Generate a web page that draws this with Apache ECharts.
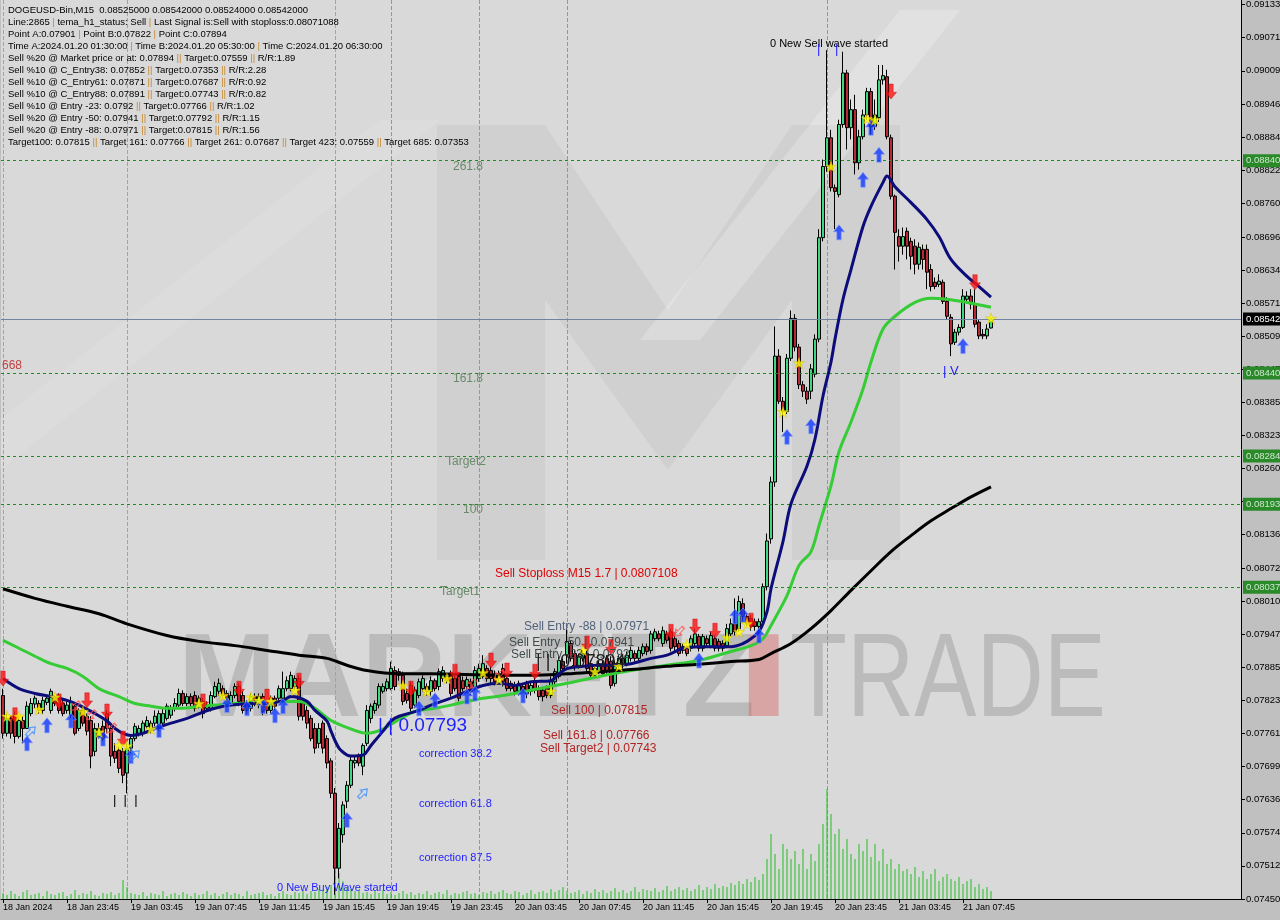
<!DOCTYPE html>
<html><head><meta charset="utf-8">
<script src="https://cdn.jsdelivr.net/npm/echarts@6/dist/echarts.min.js"></script>
<style>html,body{margin:0;padding:0;background:#c0c0c0}#c{width:1280px;height:920px}</style>
</head><body><div id="c"></div>
<script>
const infoLines = [
 'DOGEUSD-Bin,M15  0.08525000 0.08542000 0.08524000 0.08542000',
 'Line:2865 | tema_h1_status: Sell | Last Signal is:Sell with stoploss:0.08071088',
 'Point A:0.07901 | Point B:0.07822 | Point C:0.07894',
 'Time A:2024.01.20 01:30:00 | Time B:2024.01.20 05:30:00 | Time C:2024.01.20 06:30:00',
 'Sell %20 @ Market price or at: 0.07894 || Target:0.07559 || R/R:1.89',
 'Sell %10 @ C_Entry38: 0.07852 || Target:0.07353 || R/R:2.28',
 'Sell %10 @ C_Entry61: 0.07871 || Target:0.07687 || R/R:0.92',
 'Sell %10 @ C_Entry88: 0.07891 || Target:0.07743 || R/R:0.82',
 'Sell %10 @ Entry -23: 0.0792 || Target:0.07766 || R/R:1.02',
 'Sell %20 @ Entry -50: 0.07941 || Target:0.07792 || R/R:1.15',
 'Sell %20 @ Entry -88: 0.07971 || Target:0.07815 || R/R:1.56',
 'Target100: 0.07815 || Target 161: 0.07766 || Target 261: 0.07687 || Target 423: 0.07559 || Target 685: 0.07353'
];
const yTickLabels = ['0.074502','0.075124','0.075746','0.076369','0.076991','0.077613','0.078235','0.078857','0.079479','0.080101','0.080723','0.081364','0.081986','0.082608','0.083230','0.083852','0.084474','0.085096','0.085718','0.086340','0.086962','0.087601','0.088221','0.088843','0.089465','0.090091','0.090714','0.091336'];
const xTickLabels = ['18 Jan 2024','18 Jan 23:45','19 Jan 03:45','19 Jan 07:45','19 Jan 11:45','19 Jan 15:45','19 Jan 19:45','19 Jan 23:45','20 Jan 03:45','20 Jan 07:45','20 Jan 11:45','20 Jan 15:45','20 Jan 19:45','20 Jan 23:45','21 Jan 03:45','21 Jan 07:45'];
// [open, close, low, high]
const candles = [
[0.07833,0.07762,0.07752,0.07846],[0.07762,0.07790,0.07756,0.07799],[0.07790,0.07762,0.07752,0.07796],[0.07796,0.07756,0.07743,0.07803],
[0.07756,0.07786,0.07752,0.07794],[0.07786,0.07771,0.07743,0.07794],[0.07771,0.07813,0.07771,0.07822],[0.07799,0.07818,0.07794,0.07828],
[0.07817,0.07828,0.07809,0.07833],[0.07818,0.07805,0.07799,0.07824],[0.07805,0.07824,0.07799,0.07831],[0.07820,0.07828,0.07815,0.07833],
[0.07805,0.07841,0.07799,0.07846],[0.07828,0.07818,0.07813,0.07833],[0.07833,0.07805,0.07799,0.07837],[0.07818,0.07799,0.07794,0.07824],
[0.07805,0.07815,0.07799,0.07822],[0.07796,0.07822,0.07790,0.07831],[0.07813,0.07762,0.07758,0.07818],[0.07771,0.07805,0.07766,0.07809],
[0.07805,0.07781,0.07775,0.07813],[0.07794,0.07766,0.07758,0.07799],[0.07786,0.07719,0.07696,0.07794],[0.07728,0.07771,0.07719,0.07781],
[0.07756,0.07771,0.07752,0.07781],[0.07775,0.07752,0.07747,0.07786],[0.07799,0.07771,0.07762,0.07805],[0.07771,0.07719,0.07700,0.07781],
[0.07728,0.07715,0.07706,0.07743],[0.07730,0.07696,0.07687,0.07738],[0.07728,0.07683,0.07668,0.07734],[0.07687,0.07734,0.07649,0.07743],
[0.07734,0.07752,0.07724,0.07758],[0.07752,0.07775,0.07747,0.07781],[0.07762,0.07771,0.07756,0.07777],[0.07762,0.07781,0.07756,0.07786],
[0.07775,0.07786,0.07771,0.07794],[0.07768,0.07781,0.07762,0.07786],[0.07781,0.07794,0.07775,0.07805],[0.07771,0.07799,0.07766,0.07805],
[0.07781,0.07799,0.07775,0.07809],[0.07790,0.07813,0.07786,0.07818],[0.07796,0.07809,0.07790,0.07815],[0.07809,0.07818,0.07803,0.07828],
[0.07815,0.07837,0.07809,0.07846],[0.07837,0.07818,0.07813,0.07843],[0.07818,0.07831,0.07813,0.07837],[0.07831,0.07818,0.07813,0.07837],
[0.07833,0.07809,0.07803,0.07841],[0.07813,0.07828,0.07809,0.07833],[0.07822,0.07799,0.07790,0.07828],[0.07809,0.07815,0.07803,0.07822],
[0.07809,0.07833,0.07803,0.07841],[0.07831,0.07850,0.07828,0.07859],[0.07841,0.07856,0.07833,0.07865],[0.07846,0.07833,0.07828,0.07852],
[0.07837,0.07828,0.07822,0.07843],[0.07818,0.07833,0.07813,0.07841],[0.07833,0.07850,0.07828,0.07856],[0.07850,0.07822,0.07813,0.07856],
[0.07833,0.07805,0.07799,0.07841],[0.07818,0.07805,0.07799,0.07824],[0.07809,0.07831,0.07803,0.07837],
[0.07831,0.07818,0.07813,0.07837],[0.07817,0.07831,0.07809,0.07837],[0.07831,0.07803,0.07796,0.07837],[0.07818,0.07805,0.07799,0.07824],
[0.07805,0.07828,0.07799,0.07833],[0.07828,0.07813,0.07805,0.07833],[0.07828,0.07846,0.07822,0.07852],[0.07828,0.07846,0.07822,0.07878],
[0.07846,0.07861,0.07841,0.07869],[0.07846,0.07871,0.07841,0.07878],[0.07850,0.07865,0.07843,0.07871],[0.07865,0.07794,0.07786,0.07871],
[0.07818,0.07794,0.07786,0.07828],[0.07805,0.07781,0.07771,0.07813],[0.07790,0.07752,0.07747,0.07796],[0.07771,0.07734,0.07724,0.07781],
[0.07743,0.07771,0.07734,0.07781],[0.07781,0.07734,0.07724,0.07786],[0.07752,0.07706,0.07696,0.07758],[0.07710,0.07649,0.07640,0.07715],
[0.07649,0.07508,0.07458,0.07659],[0.07508,0.07583,0.07489,0.07593],[0.07571,0.07627,0.07556,0.07634],[0.07634,0.07664,0.07621,0.07672],
[0.07664,0.07711,0.07659,0.07719],[0.07706,0.07711,0.07696,0.07719],[0.07719,0.07706,0.07700,0.07724],[0.07700,0.07739,0.07683,0.07743],
[0.07743,0.07805,0.07738,0.07815],[0.07790,0.07813,0.07781,0.07818],[0.07805,0.07818,0.07799,0.07824],[0.07815,0.07850,0.07809,0.07856],
[0.07841,0.07850,0.07837,0.07856],[0.07846,0.07859,0.07841,0.07865],[0.07846,0.07884,0.07843,0.07897],[0.07880,0.07850,0.07843,0.07888],
[0.07878,0.07871,0.07861,0.07884],[0.07871,0.07822,0.07815,0.07878],[0.07837,0.07824,0.07818,0.07846],[0.07852,0.07809,0.07803,0.07859],
[0.07815,0.07843,0.07809,0.07850],[0.07833,0.07859,0.07828,0.07865],[0.07846,0.07865,0.07841,0.07871],[0.07850,0.07841,0.07833,0.07856],
[0.07841,0.07861,0.07833,0.07869],[0.07861,0.07846,0.07841,0.07865],[0.07850,0.07878,0.07843,0.07884],[0.07865,0.07880,0.07859,0.07888],
[0.07869,0.07861,0.07856,0.07874],[0.07874,0.07837,0.07831,0.07880],[0.07865,0.07846,0.07841,0.07871],[0.07869,0.07828,0.07822,0.07874],
[0.07861,0.07846,0.07841,0.07869],[0.07850,0.07863,0.07843,0.07869],[0.07859,0.07841,0.07833,0.07865],[0.07846,0.07880,0.07841,0.07888],
[0.07865,0.07884,0.07859,0.07893],[0.07869,0.07893,0.07865,0.07909],[0.07884,0.07865,0.07859,0.07890],[0.07880,0.07865,0.07856,0.07888],
[0.07874,0.07859,0.07852,0.07880],[0.07865,0.07874,0.07859,0.07880],
[0.07884,0.07859,0.07850,0.07893],[0.07865,0.07846,0.07841,0.07871],[0.07856,0.07846,0.07841,0.07861],[0.07852,0.07841,0.07833,0.07859],
[0.07841,0.07856,0.07833,0.07861],[0.07850,0.07843,0.07837,0.07856],[0.07856,0.07837,0.07828,0.07861],[0.07841,0.07852,0.07833,0.07859],
[0.07861,0.07843,0.07837,0.07869],[0.07846,0.07831,0.07824,0.07852],[0.07843,0.07831,0.07822,0.07846],[0.07846,0.07833,0.07828,0.07852],
[0.07833,0.07859,0.07828,0.07869],[0.07859,0.07878,0.07852,0.07884],[0.07869,0.07899,0.07865,0.07907],[0.07897,0.07884,0.07878,0.07903],
[0.07909,0.07935,0.07893,0.07959],[0.07931,0.07903,0.07897,0.07937],[0.07912,0.07888,0.07880,0.07918],[0.07888,0.07907,0.07884,0.07912],
[0.07903,0.07912,0.07897,0.07918],[0.07912,0.07884,0.07878,0.07922],[0.07893,0.07871,0.07865,0.07899],[0.07871,0.07884,0.07865,0.07890],
[0.07880,0.07893,0.07874,0.07899],[0.07893,0.07874,0.07869,0.07899],[0.07903,0.07880,0.07874,0.07909],[0.07897,0.07852,0.07846,0.07907],
[0.07856,0.07893,0.07850,0.07899],[0.07888,0.07903,0.07884,0.07909],[0.07903,0.07890,0.07884,0.07909],[0.07893,0.07909,0.07888,0.07916],
[0.07903,0.07918,0.07897,0.07925],[0.07912,0.07903,0.07897,0.07918],[0.07903,0.07918,0.07897,0.07925],[0.07912,0.07925,0.07907,0.07931],
[0.07925,0.07916,0.07909,0.07931],[0.07918,0.07949,0.07912,0.07955],[0.07940,0.07953,0.07935,0.07959],[0.07949,0.07940,0.07935,0.07955],
[0.07931,0.07955,0.07925,0.07963],[0.07949,0.07937,0.07931,0.07955],[0.07953,0.07922,0.07916,0.07959],[0.07940,0.07925,0.07918,0.07946],
[0.07931,0.07912,0.07907,0.07937],[0.07925,0.07918,0.07912,0.07931],[0.07922,0.07912,0.07907,0.07927],[0.07922,0.07940,0.07916,0.07946],
[0.07931,0.07949,0.07925,0.07959],[0.07944,0.07922,0.07916,0.07949],[0.07922,0.07944,0.07916,0.07949],[0.07940,0.07931,0.07925,0.07946],
[0.07925,0.07946,0.07922,0.07953],[0.07940,0.07922,0.07916,0.07946],[0.07935,0.07922,0.07916,0.07940],[0.07931,0.07922,0.07916,0.07937],
[0.07927,0.07959,0.07922,0.07968],[0.07949,0.07968,0.07944,0.07978],[0.07968,0.07953,0.07946,0.08016],[0.07959,0.08010,0.07953,0.08021],
[0.08006,0.07982,0.07974,0.08016],[0.07982,0.07968,0.07963,0.07987],[0.07978,0.07963,0.07955,0.07984],[0.07972,0.07963,0.07955,0.07978],
[0.07963,0.07972,0.07955,0.07978],
[0.07972,0.08038,0.07963,0.08044],[0.08038,0.08124,0.08031,0.08138],[0.08128,0.08235,0.08119,0.08245],[0.08235,0.08472,0.08226,0.08528],
[0.08472,0.08387,0.08382,0.08485],[0.08387,0.08368,0.08329,0.08395],[0.08368,0.08468,0.08363,0.08476],[0.08468,0.08543,0.08463,0.08558],
[0.08543,0.08489,0.08481,0.08551],[0.08489,0.08418,0.08410,0.08495],[0.08418,0.08406,0.08395,0.08425],[0.08406,0.08391,0.08382,0.08414],
[0.08406,0.08448,0.08391,0.08457],[0.08438,0.08504,0.08432,0.08513],[0.08504,0.08695,0.08498,0.08711],[0.08695,0.08829,0.08688,0.08842],
[0.08829,0.08883,0.08819,0.09048],[0.08883,0.08789,0.08782,0.08898],[0.08789,0.08782,0.08711,0.08795],[0.08776,0.08908,0.08771,0.08917],
[0.08908,0.09005,0.08902,0.09045],[0.09005,0.08902,0.08861,0.09011],[0.08902,0.08936,0.08880,0.08955],[0.08936,0.08836,0.08814,0.08964],
[0.08836,0.08885,0.08823,0.08898],[0.08885,0.08926,0.08880,0.08936],[0.08926,0.08970,0.08917,0.08977],[0.08970,0.08904,0.08889,0.08977],
[0.08904,0.08926,0.08898,0.08955],[0.08921,0.08992,0.08913,0.09020],[0.08992,0.09000,0.08983,0.09020],
[0.08998,0.08885,0.08880,0.09011],[0.08883,0.08773,0.08767,0.08889],[0.08773,0.08705,0.08635,0.08776],[0.08697,0.08679,0.08650,0.08711],
[0.08679,0.08697,0.08663,0.08714],[0.08707,0.08679,0.08654,0.08714],[0.08688,0.08660,0.08635,0.08695],[0.08679,0.08645,0.08626,0.08692],
[0.08645,0.08677,0.08635,0.08686],[0.08673,0.08654,0.08635,0.08682],[0.08673,0.08630,0.08598,0.08682],[0.08635,0.08603,0.08594,0.08645],
[0.08611,0.08603,0.08598,0.08620],[0.08607,0.08613,0.08602,0.08626],[0.08611,0.08575,0.08570,0.08616],[0.08575,0.08547,0.08541,0.08583],
[0.08545,0.08495,0.08472,0.08551],[0.08498,0.08517,0.08493,0.08523],[0.08517,0.08526,0.08511,0.08532],[0.08526,0.08585,0.08523,0.08598],
[0.08579,0.08585,0.08573,0.08594],[0.08585,0.08570,0.08560,0.08598],[0.08570,0.08532,0.08526,0.08598],[0.08536,0.08510,0.08504,0.08541],
[0.08513,0.08510,0.08504,0.08523],[0.08510,0.08523,0.08504,0.08532],[0.08525,0.08542,0.08524,0.08542]
];
const volumes = [
6,4,8,5,3,7,9,4,5,6, 3,8,5,4,6,7,3,5,9,4, 6,5,8,4,3,6,5,7,4,6,
19,12,6,
5,4,7,3,6,5,4,8,3,5, 6,4,7,5,3,6,4,5,8,4, 6,3,5,7,4,6,5,3,8,4, 5,6,7,4,5,3,6,8,5,4, 7,6,9,5,8,7,10,9,12,14,
30,26,18,12,
10,8,9,6,7,5,8,6,9,5, 7,4,6,8,5,7,4,6,5,8, 4,6,7,5,9,4,6,5,7,8, 5,6,4,7,
6,8,5,7,9,6,5,8,7,4, 6,9,5,7,8,6,10,7,9,12, 8,6,7,9,5,8,6,10,7,9, 6,8,11,7,9,6,8,12,7,10, 9,8,11,7,9,13,8,10,12,9, 11,8,10,14,9,12,10,15,11,13, 12,16,14,18,15,20,17,22,19,
25,40,65,45,30,55,50,40,48,35, 50,30,45,38,55,75,110,85,65,70, 50,60,45,40,55,48,60,42,55,38, 50,35,40,30,35,28,30,25,32,22, 28,20,25,30,18,22,25,20,18,22, 15,18,20,12,15,10,12,8
];
const maBlue = [[0,0.07865],[4,0.07846],[8,0.07837],[12,0.07831],[16,0.07824],[19,0.07815],[23,0.07799],[26,0.07785],[28,0.07771],[30,0.07762],[32,0.07758],[35,0.07762],[38,0.07771],[42,0.07781],[46,0.07790],[49,0.07799],[53,0.07809],[57,0.07815],[62,0.07818],[66,0.07818],[70,0.07824],[72,0.07831],[76,0.07822],[78,0.07805],[81,0.07785],[82,0.07766],[84,0.07734],[86,0.07721],[87,0.07719],[90,0.07721],[92,0.07739],[95,0.07766],[97,0.07785],[99,0.07794],[104,0.07805],[107,0.07815],[112,0.07828],[116,0.07841],[120,0.07852],[124,0.07856],[128,0.07852],[132,0.07859],[137,0.07861],[139,0.07874],[141,0.07884],[145,0.07888],[149,0.07890],[153,0.07890],[157,0.07893],[162,0.07903],[166,0.07909],[170,0.07922],[174,0.07925],[182,0.07925],[185,0.07931],[187,0.07940],[189,0.07953],[191,0.07991],[192,0.08034],[195,0.08123],[197,0.08194],[201,0.08265],[203,0.08316],[205,0.08397],[207,0.08461],[208,0.08504],[210,0.08579],[212,0.08635],[215,0.08716],[217,0.08754],[220,0.08799],[221,0.08811],[223,0.08791],[227,0.08761],[231,0.08729],[234,0.08697],[237,0.08654],[241,0.08622],[244,0.08603],[247,0.08583]];
const maGreen = [[0,0.07937],[4,0.07922],[8,0.07907],[12,0.07893],[16,0.07884],[20,0.07869],[24,0.07846],[29,0.07831],[33,0.07818],[37,0.07813],[41,0.07809],[45,0.07809],[49,0.07813],[53,0.07815],[58,0.07818],[72,0.07822],[74,0.07822],[78,0.07809],[82,0.07786],[87,0.07770],[91,0.07762],[95,0.07770],[99,0.07788],[103,0.07803],[108,0.07809],[112,0.07815],[116,0.07822],[120,0.07828],[125,0.07833],[132,0.07843],[141,0.07856],[149,0.07869],[157,0.07880],[166,0.07890],[174,0.07899],[182,0.07916],[187,0.07927],[190,0.07940],[192,0.07965],[196,0.08021],[199,0.08078],[202,0.08104],[204,0.08153],[207,0.08228],[209,0.08292],[212,0.08348],[215,0.08410],[217,0.08461],[220,0.08523],[223,0.08547],[228,0.08573],[232,0.08581],[236,0.08579],[241,0.08573],[247,0.08564]];
const maBlack = [[0,0.08034],[8,0.08016],[16,0.08001],[24,0.07987],[31,0.07968],[41,0.07946],[49,0.07935],[58,0.07927],[66,0.07918],[74,0.07909],[81,0.07903],[86,0.07890],[91,0.07880],[99,0.07874],[107,0.07874],[124,0.07871],[132,0.07871],[141,0.07874],[149,0.07878],[157,0.07882],[166,0.07888],[174,0.07892],[182,0.07897],[189,0.07901],[192,0.07912],[197,0.07931],[202,0.07959],[207,0.07993],[212,0.08031],[217,0.08068],[222,0.08104],[227,0.08134],[232,0.08162],[237,0.08185],[242,0.08207],[247,0.08226]];
const levelLines = [0.08840,0.08440,0.08284,0.08193,0.08037];
const currentPrice = 0.08542;
const cyanLines = [0,31,83];
const pinkLines = [97,119,141,206];
const sellArrows = [[0,0.07865],[3,0.07796],[14,0.07822],[21,0.07824],[26,0.07803],[30,0.07752],[50,0.07822],[59,0.07846],[66,0.07831],[74,0.07861],[102,0.07846],[113,0.07878],[122,0.07899],[126,0.07880],[133,0.07878],[146,0.07931],[152,0.07925],[167,0.07953],[173,0.07963],[178,0.07955],[187,0.07974],[222,0.08970],[243,0.08611]];
const buyArrows = [[6,0.07743],[11,0.07777],[17,0.07786],[25,0.07752],[32,0.07719],[39,0.07768],[56,0.07815],[61,0.07809],[65,0.07813],[68,0.07796],[70,0.07813],[86,0.07599],[104,0.07809],[108,0.07824],[116,0.07831],[118,0.07837],[130,0.07833],[174,0.07899],[183,0.07982],[185,0.07984],[189,0.07946],[196,0.08320],[202,0.08340],[209,0.08705],[215,0.08804],[217,0.08902],[219,0.08851],[240,0.08491]];
const stars = [[1,0.07794],[4,0.07794],[9,0.07807],[13,0.07830],[20,0.07803],[24,0.07764],[29,0.07739],[31,0.07738],[37,0.07770],[49,0.07818],[55,0.07833],[62,0.07830],[64,0.07824],[67,0.07822],[73,0.07843],[100,0.07852],[106,0.07841],[111,0.07865],[120,0.07876],[124,0.07863],[137,0.07841],[145,0.07918],[148,0.07878],[154,0.07888],[171,0.07929],[181,0.07942],[184,0.07953],[186,0.07968],[195,0.08367],[199,0.08459],[207,0.08829],[216,0.08919],[218,0.08917],[247,0.08543]];
const hollowBuy = [[7,0.07766],[33,0.07721],[90,0.07649]];
const hollowSell = [[18,0.07813],[22,0.07796],[27,0.07771],[117,0.07854],[124,0.07871],[169,0.07953]];

const SANS = '"Liberation Sans",Arial,sans-serif';
const chart = echarts.init(document.getElementById('c'), null, {renderer:'canvas', width:1280, height:920});
const nCat = 310;
const cats = Array.from({length:nCat}, (_, i) => String(i));
const yTickValues = yTickLabels.map(Number);
function yLabel(v){ for (const s of yTickLabels) if (Math.abs(Number(s) - v) < 1e-8) return s; return ''; }
const xShow = (i) => i % 16 === 0 && (i / 16) < xTickLabels.length;

const markData = [];
levelLines.forEach(v => markData.push({yAxis: v, lineStyle:{color:'#1e8c1e', type:[3,3], width:1},
  label:{show:true, position:'end', distance:2, formatter: v.toFixed(5) + '0', color:'#cfe8cf', backgroundColor:'#2a8a2a', padding:[2,12,1,3], fontSize:9.5, fontFamily:SANS}}));
markData.push({yAxis: currentPrice, lineStyle:{color:'#7084a0', type:'solid', width:1},
  label:{show:true, position:'end', distance:2, formatter: currentPrice.toFixed(5) + '0', color:'#ffffff', backgroundColor:'#000000', padding:[2,12,1,3], fontSize:9.5, fontFamily:SANS}});

const downArrow = 'path://M3,0 H7 V7 H10 L5,13 L0,7 H3 Z';
const upArrow = 'path://M5,0 L10,6 H7 V13 H3 V6 H0 Z';
const starPath = 'path://M5,0 L6.2,3.6 L10,3.6 L7,5.9 L8.1,9.5 L5,7.3 L1.9,9.5 L3,5.9 L0,3.6 L3.8,3.6 Z';

function T(x, y, text, color, size, extra) {
  return Object.assign({type:'text', x:x, y:y, z:10, silent:true,
    style:{text:text, fill:color, font: (size||12) + 'px ' + SANS, verticalAlign:'middle', align:'left'}}, extra || {});
}
const graphics = [];
// watermark
graphics.push({type:'polygon', z:1, silent:true, shape:{points:[[437,560],[437,125],[545,125],[668,310],[792,125],[900,125],[900,560],[792,560],[792,300],[668,470],[545,300],[545,560]]}, style:{fill:'rgba(0,0,0,0.04)'}});
graphics.push({type:'polygon', z:1, silent:true, shape:{points:[[640,340],[700,340],[960,10],[900,10]]}, style:{fill:'rgba(255,255,255,0.22)'}});
graphics.push({type:'polygon', z:1, silent:true, shape:{points:[[0,470],[0,420],[380,120],[440,120]]}, style:{fill:'rgba(255,255,255,0.10)'}});
graphics.push({type:'text', z:1, silent:true, x:178, y:683, style:{text:'MARKETZ', fill:'rgba(120,120,120,0.30)', font:'bold 118px ' + SANS, verticalAlign:'middle'}});
graphics.push({type:'text', z:1, silent:true, x:735, y:683, scaleX:1.75, style:{text:'I', fill:'rgba(215,80,80,0.38)', font:'bold 118px ' + SANS, verticalAlign:'middle'}});
graphics.push({type:'text', z:1, silent:true, x:790, y:683, scaleX:0.79, style:{text:'TRADE', fill:'rgba(120,120,120,0.30)', font:'118px ' + SANS, verticalAlign:'middle'}});
// info block
infoLines.forEach((ln, k) => {
  graphics.push({type:'text', z:100, silent:true, x:8, y:10 + 12 * k,
    style:{text: ln.replace(/\|/g, '{p||}'), fill:'#000', font:'9.5px ' + SANS, verticalAlign:'middle', rich:{p:{fill:'#c8882a', font:'9.5px ' + SANS}}}});
});
// annotations
const lvlCol = '#6a8a6a';
graphics.push(T(453,167,'261.8',lvlCol,12));
graphics.push(T(453,379,'161.8',lvlCol,12));
graphics.push(T(446,462,'Target2',lvlCol,12));
graphics.push(T(463,510,'100',lvlCol,12));
graphics.push(T(440,592,'Target1',lvlCol,12));
graphics.push(T(2,366,'668','#c04040',12));
graphics.push(T(495,574,'Sell Stoploss M15 1.7 | 0.0807108','#e00000',12));
graphics.push(T(524,627,'Sell Entry -88 | 0.07971','#52627a',12));
graphics.push(T(509,643,'Sell Entry -50 | 0.07941','#404c4c',12));
graphics.push(T(511,655,'Sell Entry -23 | 0.0792','#404c4c',12));
graphics.push(T(536,662,'| |  0.07894','#222222',18));
graphics.push(T(551,711,'Sell 100 | 0.07815','#b02424',12));
graphics.push(T(543,736,'Sell 161.8 | 0.07766','#b02424',12));
graphics.push(T(540,749,'Sell Target2 | 0.07743','#b02424',12));
graphics.push(T(378,726,'| | 0.07793','#1e1eff',19));
graphics.push(T(419,754,'correction 38.2','#1e1eff',11));
graphics.push(T(419,804,'correction 61.8','#1e1eff',11));
graphics.push(T(419,858,'correction 87.5','#1e1eff',11));
graphics.push(T(277,888,'0 New Buy Wave started','#1e1eff',11));
graphics.push(T(770,44,'0 New Sell wave started','#000000',11));
graphics.push(T(817,49,'|','#1e1eff',13));
graphics.push(T(835,49,'|','#1e1eff',13));
graphics.push(T(943,371,'| V','#1e1eff',13));
graphics.push(T(113,800,'|  |  |','#000000',13));

const option = {
  animation:false,
  backgroundColor:'#c0c0c0',
  grid:{left:1, right:39, top:0, bottom:21, show:true, backgroundColor:'#d9d9d9', borderWidth:0, containLabel:false, outerBoundsMode:'none'},
  xAxis:{type:'category', data:cats, boundaryGap:true,
    axisLine:{show:true, lineStyle:{color:'#000', width:1}},
    axisTick:{show:true, alignWithLabel:true, interval:(i)=>xShow(i), length:4, lineStyle:{color:'#000'}},
    axisLabel:{interval:(i)=>xShow(i), formatter:(v,i)=> xTickLabels[i/16] || '', align:'left', margin:4, color:'#000', fontSize:9, fontFamily:SANS},
    splitLine:{show:false}},
  yAxis:[
    {type:'value', position:'right', min:0.0745, max:0.091424,
      axisLine:{show:true, lineStyle:{color:'#000', width:1}},
      axisTick:{show:true, customValues:yTickValues, length:4, lineStyle:{color:'#000'}},
      axisLabel:{customValues:yTickValues, formatter:(v)=>yLabel(v), color:'#000', fontSize:9.5, margin:5, fontFamily:SANS},
      splitLine:{show:false}},
    {type:'value', min:0, max:899, show:false}
  ],
  graphic:{elements:graphics},
  series:[
    {type:'bar', name:'Volume', yAxisIndex:1, data:volumes, barWidth:1, itemStyle:{color:'#22c022'}, silent:true, z:2},
    {type:'candlestick', name:'DOGEUSD', data:candles, barWidth:3, silent:true, z:3,
      itemStyle:{color:'#3fd67f', color0:'#b52a35', borderColor:'#000', borderColor0:'#000', borderWidth:1},
      markLine:{symbol:['none','none'], precision:6, silent:true, animation:false, data:markData}},
    {type:'line', name:'MA green', data:maGreen, showSymbol:false, smooth:0.35, lineStyle:{color:'#35cc35', width:3}, silent:true, z:4},
    {type:'line', name:'MA black', data:maBlack, showSymbol:false, smooth:0.35, lineStyle:{color:'#000000', width:3}, silent:true, z:4},
    {type:'line', name:'MA blue', data:maBlue, showSymbol:false, smooth:0.35, lineStyle:{color:'#0c0c7a', width:3}, silent:true, z:5},
    {type:'scatter', name:'Sell', data:sellArrows, symbol:downArrow, symbolSize:[11,15], itemStyle:{color:'#ff1010', borderColor:'#c00000', borderWidth:0.5}, silent:true, z:6},
    {type:'scatter', name:'Buy', data:buyArrows, symbol:upArrow, symbolSize:[11,15], itemStyle:{color:'#1236ff', borderColor:'#7f9cff', borderWidth:0.8}, silent:true, z:6},
    {type:'scatter', name:'Star', data:stars, symbol:starPath, symbolSize:11, itemStyle:{color:'#ffff00', borderColor:'#d0b000', borderWidth:0.5}, silent:true, z:7},
    {type:'scatter', name:'HollowBuy', data:hollowBuy, symbol:upArrow, symbolSize:[8,12], symbolRotate:-45, itemStyle:{color:'rgba(0,0,0,0)', borderColor:'#3a8cff', borderWidth:1.2}, silent:true, z:6},
    {type:'scatter', name:'HollowSell', data:hollowSell, symbol:upArrow, symbolSize:[8,12], symbolRotate:135, itemStyle:{color:'rgba(0,0,0,0)', borderColor:'#ff5050', borderWidth:1.2}, silent:true, z:6}
  ]
};
chart.setOption(option);

// vertical time-marker lines, positioned through the chart's own category scale
const vEls = [];
function addV(indices, color) {
  indices.forEach(i => {
    const x = Math.round(chart.convertToPixel({xAxisIndex:0}, i)) + 0.5;
    vEls.push({type:'line', z:2, silent:true, shape:{x1:x, y1:0, x2:x, y2:899},
      style:{stroke:color, lineWidth:1, lineDash:[4,2]}});
  });
}
addV(cyanLines, '#00e5ee');
addV(pinkLines, '#ff5f9e');
chart.setOption({graphic:{elements: graphics.concat(vEls)}}, {replaceMerge:['graphic']});
</script>
</body></html>
